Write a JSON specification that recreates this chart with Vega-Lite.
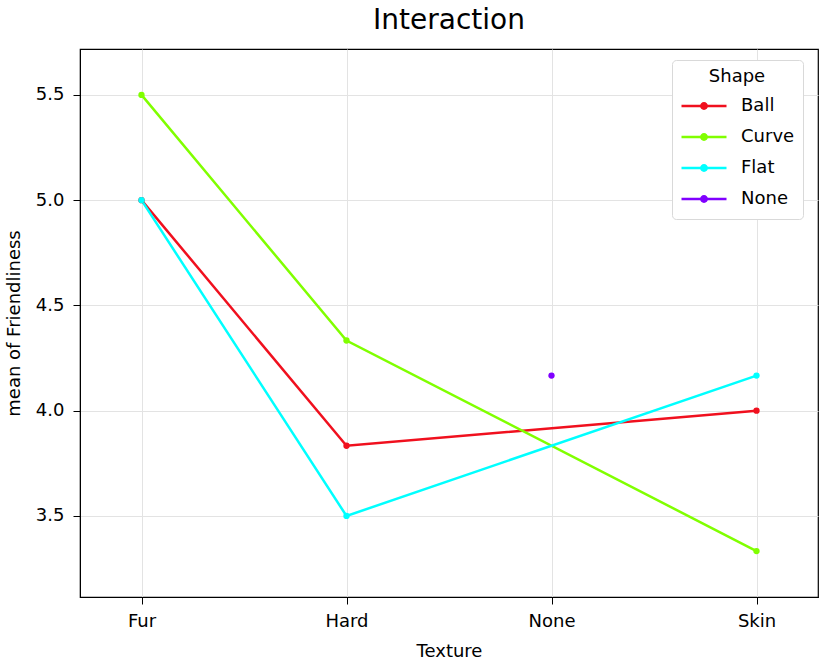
{
  "$schema": "https://vega.github.io/schema/vega-lite/v6.json",
  "autosize": "none",
  "width": 738,
  "height": 548,
  "padding": {"left": 80, "top": 49, "right": 9, "bottom": 63},
  "background": "white",
  "title": {"text": "Interaction", "fontSize": 28, "font": "DejaVu Sans", "fontWeight": "normal", "color": "black", "offset": 14, "anchor": "middle"},
  "data": {"values": [
    {"Shape": "Ball", "Texture": "Fur", "mean": 5.0},
    {"Shape": "Ball", "Texture": "Hard", "mean": 3.8333},
    {"Shape": "Ball", "Texture": "Skin", "mean": 4.0},
    {"Shape": "Curve", "Texture": "Fur", "mean": 5.5},
    {"Shape": "Curve", "Texture": "Hard", "mean": 4.3333},
    {"Shape": "Curve", "Texture": "Skin", "mean": 3.3333},
    {"Shape": "Flat", "Texture": "Fur", "mean": 5.0},
    {"Shape": "Flat", "Texture": "Hard", "mean": 3.5},
    {"Shape": "Flat", "Texture": "Skin", "mean": 4.1667},
    {"Shape": "None", "Texture": "None", "mean": 4.1667}
  ]},
  "encoding": {
    "x": {"field": "Texture", "type": "ordinal", "sort": ["Fur", "Hard", "None", "Skin"],
      "scale": {"type": "point", "domain": ["Fur", "Hard", "None", "Skin"], "padding": 0.3},
      "axis": {"title": "Texture", "labelAngle": 0, "grid": true, "gridColor": "#e3e3e3", "labelPadding": 8, "titlePadding": 12}},
    "y": {"field": "mean", "type": "quantitative",
      "scale": {"domain": [3.115, 5.718], "nice": false, "zero": false},
      "axis": {"title": "mean of Friendliness", "values": [3.5, 4.0, 4.5, 5.0, 5.5], "format": ".1f", "grid": true, "gridColor": "#e3e3e3", "labelPadding": 9, "titlePadding": 12}},
    "color": {"field": "Shape", "type": "nominal",
      "scale": {"domain": ["Ball", "Curve", "Flat", "None"], "range": ["#f0101e", "#80ff00", "#00ffff", "#8000ff"]},
      "legend": {"title": "Shape", "orient": "none", "legendX": 592, "legendY": 11,
        "symbolType": "M-1,0L1,0M-0.12,0A0.12,0.12 0 1 0 0.12,0A0.12,0.12 0 1 0 -0.12,0",
        "symbolSize": 2025, "symbolStrokeWidth": 2.5, "clipHeight": 24, "rowPadding": 7,
        "labelFontSize": 18, "titleFontSize": 18, "titleFontWeight": "normal", "titleAnchor": "middle",
        "labelOffset": 13, "padding": 8, "strokeColor": "#d9d9d9", "fillColor": "white", "cornerRadius": 4,
        "titlePadding": 8}}
  },
  "layer": [
    {"mark": {"type": "line", "strokeWidth": 2.5}},
    {"mark": {"type": "point", "filled": true, "size": 40, "opacity": 1}}
  ],
  "config": {
    "font": "DejaVu Sans",
    "view": {"stroke": "black", "strokeWidth": 1.2},
    "axis": {"labelFontSize": 18, "titleFontSize": 18, "titleFontWeight": "normal", "labelColor": "black", "titleColor": "black",
      "domainColor": "black", "tickColor": "black", "tickSize": 7, "domain": true},
    "legend": {"labelColor": "black", "titleColor": "black"}
  }
}
